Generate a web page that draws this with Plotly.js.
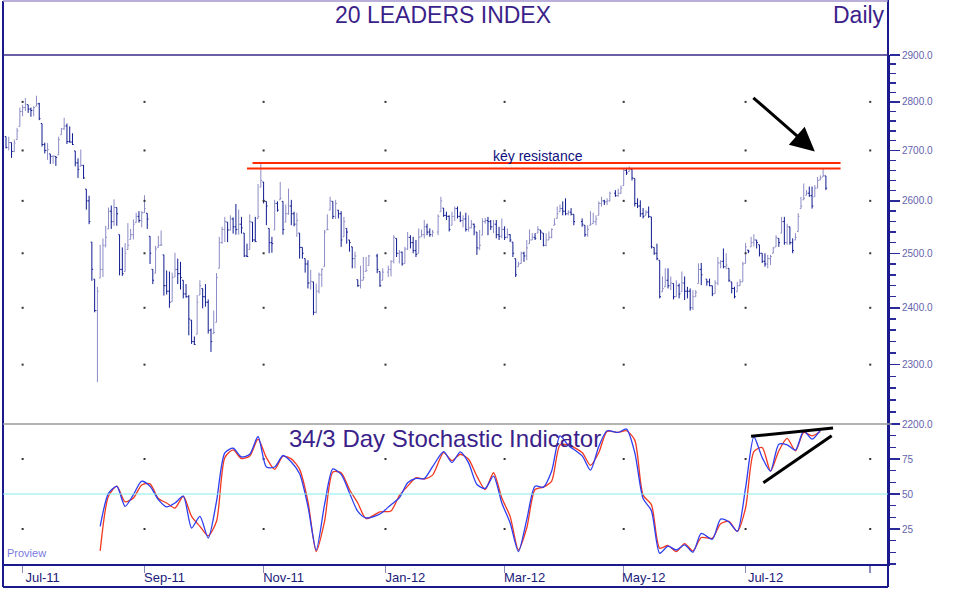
<!DOCTYPE html>
<html><head><meta charset="utf-8">
<script src="https://cdn.plot.ly/plotly-3.0.1.min.js"></script>
<style>html,body{margin:0;padding:0;background:#fff;}#chart{width:956px;height:591px;}</style>
</head><body><div id="chart"></div>
<script>
// ---- data ----
const startDate = '2011-06-23';
const holidays = ['2011-12-26','2011-12-27','2012-01-02','2012-01-26','2012-04-06','2012-04-09','2012-04-25','2012-06-11'];
const firstOpen = 2728;
const highs = [
2728,2728,2716,2722,2746,2788,2794,2808,2794,2788,
2791,2813,2798,2755,2716,2715,2693,2690,2688,2728,
2746,2767,2755,2749,2735,2699,2684,2702,2671,2623,
2610,2521,2452,2438,2516,2528,2552,2587,2591,2603,
2587,2535,2511,2519,2557,2546,2564,2577,2580,2580,
2611,2576,2532,2470,2514,2533,2543,2497,2468,2466,
2464,2501,2490,2484,2450,2443,2423,2378,2349,2423,
2450,2435,2443,2415,2363,2395,2463,2531,2550,2569,
2559,2572,2568,2594,2583,2569,2538,2518,2574,2559,
2569,2633,2677,2637,2599,2547,2531,2602,2599,
2637,2599,2593,2624,2602,2579,2577,2538,2511,2490,
2487,2469,2447,2444,2464,2472,2544,2574,2608,2599,
2602,2582,2580,2569,2547,2525,2512,2503,
2451,2477,2493,2493,2497,2499,2466,2472,2477,2487,2534,
2528,2506,2503,2512,2540,2534,2531,2525,2547,2545,
2563,2556,2547,2544,2574,2608,
2586,2579,2572,2579,2589,2589,2579,2572,2577,
2572,2563,2556,2540,2544,2566,2567,2569,2563,2563,2563,2550,2566,
2551,2547,2536,2521,2490,2484,2503,2503,2525,2545,
2538,
2538,2551,2544,2538,2538,2541,2547,2566,
2589,2593,2599,2605,2582,2586,2574,2566,2553,2553,
2580,2577,2572,2599,2608,2602,
2605,2618,2621,2624,2630,2665,2665,2668,2665,2644,2605,2601,2586,
2582,2589,2569,2511,2518,2487,2457,2472,2472,2457,2444,2450,2444,2466,2457,
2438,2435,2432,2432,2481,2482,2452,2453,
2440,2450,2493,2487,2509,2500,2472,2447,2438,
2447,2452,2484,2519,2506,2531,2536,
2525,2516,2500,2500,2497,2497,2512,2534,2528,2569,2569,2556,2550,2528,2538,
2576,2608,2634,2621,2628,
2628,2631,2647,2650,2664,2649];
const lows = [
2704,2700,2685,2697,2722,2749,2770,2781,2777,2769,
2770,2791,2762,2708,2694,2681,2673,2673,2669,2691,
2732,2742,2713,2716,2711,2668,2645,2668,2643,2583,
2555,2449,2392,2270,2454,2456,2511,2546,2546,2552,
2552,2459,2458,2466,2507,2526,2526,2558,2558,2549,
2577,2546,2480,2443,2463,2511,2514,2422,2424,2400,
2411,2456,2443,2433,2417,2418,2351,2336,2334,2353,
2423,2399,2402,2354,2322,2354,2374,2472,2518,2521,
2521,2543,2537,2535,2535,2537,2493,2493,2507,2521,
2521,2566,2627,2595,2553,2500,2501,2544,2579,
2602,2535,2559,2573,2553,2551,2531,2490,2490,2464,
2435,2433,2387,2390,2426,2438,2475,2544,2582,2565,
2565,2566,2512,2531,2518,2503,2472,2472,
2438,2435,2450,2466,2477,2463,2438,2450,2456,2457,2481,
2493,2481,2477,2481,2506,2509,2500,2493,2500,2531,
2528,2534,2531,2531,2534,2579,
2569,2563,2541,2553,2561,2566,2559,2549,2541,
2541,2547,2534,2497,2506,2534,2556,2534,2544,2538,2528,2525,2528,
2525,2528,2521,2493,2456,2475,2481,2484,2487,2518,
2525,
2525,2538,2525,2513,2513,2525,2528,2553,
2566,2579,2572,2572,2572,2572,2553,2550,2531,2531,
2553,2556,2553,2572,2589,2592,
2592,2599,2608,2608,2614,2630,2651,2658,2640,2589,2586,2569,2566,
2572,2567,2509,2497,2487,2417,2429,2438,2435,2432,2415,2420,2417,2429,2414,
2417,2395,2396,2420,2444,2441,2440,2439,
2421,2426,2441,2472,2472,2470,2447,2426,2417,
2429,2440,2447,2481,2500,2512,2513,
2509,2494,2482,2475,2472,2478,2500,2512,2512,2538,2516,2516,2516,2500,2525,
2541,2585,2602,2611,2608,
2585,2608,2625,2641,2647,2621];
const closes = [
2706,2716,2698,2715,2740,2780,2788,2795,2785,2782,
2788,2796,2765,2712,2700,2702,2688,2689,2686,2722,
2744,2750,2718,2717,2712,2675,2662,2670,2645,2600,
2560,2470,2395,2430,2470,2515,2530,2580,2560,2587,
2575,2470,2462,2500,2515,2535,2555,2570,2562,2577,
2585,2565,2500,2450,2508,2515,2516,2440,2430,2410,
2455,2470,2462,2455,2425,2420,2380,2340,2335,2410,
2440,2420,2410,2360,2340,2356,2455,2520,2545,2560,
2544,2565,2550,2545,2555,2548,2495,2494,2560,2525,
2522,2570,2640,2600,2590,2520,2518,2595,2582,
2605,2545,2575,2590,2575,2555,2562,2511,2500,2480,
2445,2448,2392,2430,2460,2470,2540,2545,2600,2570,
2595,2575,2525,2560,2540,2520,2490,2495,
2440,2450,2455,2468,2495,2470,2440,2465,2470,2485,2530,
2500,2502,2480,2508,2530,2520,2505,2498,2530,2535,
2550,2540,2535,2540,2570,2600,
2572,2570,2545,2570,2585,2570,2562,2565,2545,
2548,2555,2550,2510,2515,2560,2562,2560,2550,2555,2535,2532,2545,
2530,2535,2525,2500,2460,2480,2500,2495,2510,2525,
2530,
2528,2545,2540,2515,2525,2530,2545,2555,
2575,2585,2580,2575,2578,2574,2560,2555,2535,2545,
2555,2560,2565,2595,2600,2598,
2600,2615,2610,2615,2625,2660,2655,2662,2645,2595,2590,2575,2570,
2578,2570,2512,2500,2490,2420,2435,2450,2440,2445,2420,2440,2425,2445,2430,
2430,2400,2420,2428,2470,2460,2447,2440,
2425,2445,2482,2485,2475,2478,2450,2435,2420,
2440,2447,2480,2512,2504,2520,2525,
2520,2500,2485,2480,2490,2494,2510,2530,2520,2560,2520,2550,2520,2505,2530,
2570,2590,2605,2615,2610,
2590,2625,2640,2645,2650,2625];

// 34/3 day stochastic, read every 3rd trading day starting at bar index 34
const stochStart = 34;
const stochStep = 3;
const stochK = [26.9,50.4,55.4,41.2,49.6,59.2,55.6,46.0,40.8,43.6,
48.4,25.7,34.0,18.5,44.8,79.4,82.7,76.5,78.4,91.1,
69.3,69.3,77.5,72.9,64.5,41.2,10.0,42.4,67.9,64.0,
50.8,37.6,32.9,35.7,42.4,47.2,58.0,61.2,61.0,69.5,
80.3,72.4,80.1,72.2,56.8,54.0,62.8,43.6,29.3,8.9,
31.7,55.6,54.9,66.4,91.6,84.9,77.2,67.1,83.9,95.2,
94.0,96.4,79.6,46.8,38.1,7.7,12.7,10.0,13.7,8.4,
21.8,17.7,32.1,30.0,23.3,54.4,90.9,76.0,66.4,85.6,
85.1,81.3,95.2,89.2,95.7];
const stochD = [9.4,48.4,55.6,44.4,47.2,56.4,57.3,46.8,43.6,40.0,
48.4,34.0,26.9,20.1,30.5,76.0,81.5,75.3,77.2,89.2,
76.0,67.6,77.0,75.1,67.6,44.8,8.9,30.5,65.7,65.2,
53.2,43.6,32.4,37.2,37.9,48.9,55.6,61.6,60.7,63.5,
79.6,73.9,78.4,74.8,62.8,53.2,65.2,47.2,34.0,10.0,
25.7,53.2,54.9,59.2,85.1,85.1,79.6,70.5,79.6,94.7,
94.0,95.2,88.5,49.2,42.4,11.3,13.2,8.9,14.6,9.4,
18.9,18.5,28.8,30.5,23.3,40.0,80.3,83.2,66.4,80.8,
89.7,80.8,94.0,91.6,94.7];

// axes / ticks
const monthTicks = ['2011-07-01','2011-09-01','2011-11-01','2012-01-02','2012-03-01','2012-05-01','2012-07-02','2012-09-03'];
const monthLabels = ['Jul-11','Sep-11','Nov-11','Jan-12','Mar-12','May-12','Jul-12',''];
const priceTicks = [2200,2300,2400,2500,2600,2700,2800,2900];
const priceInnerTicks = [2300,2400,2500,2600,2700,2800];
const stochTicks = [25,50,75];
const stochInnerTicks = [25,75];

// annotations
const resistanceUpper = {level:2675, from:'2011-10-26', to:'2012-08-17 07:00'};
const resistanceLower = {level:2664, from:'2011-10-24', to:'2012-08-17 07:00'};
const arrowTip = {date:'2012-08-06', price:2698};
const wedgeTop = {x0:'2012-07-04', y0:91.2, x1:'2012-08-14 14:00', y1:97.1};
const wedgeBottom = {x0:'2012-07-10 10:00', y0:58.1, x1:'2012-08-14 02:00', y1:91.6};

// ---- build ----
function tradingDays(start, n, skip) {
  const out = [];
  const d = new Date(start + 'T00:00:00Z');
  while (out.length < n) {
    const dow = d.getUTCDay();
    const s = d.toISOString().slice(0, 10);
    if (dow !== 0 && dow !== 6 && skip.indexOf(s) < 0) out.push(s);
    d.setUTCDate(d.getUTCDate() + 1);
  }
  return out;
}
const dates = tradingDays(startDate, closes.length, holidays);
const opens = closes.map((c, i) => {
  const prev = i === 0 ? firstOpen : closes[i - 1];
  return Math.min(Math.max(prev, lows[i]), highs[i]);
});
const stochDates = stochK.map((v, k) => dates[stochStart + stochStep * k]);

const priceMinor = [];
for (let v = 2200; v <= 2900; v += 20) priceMinor.push(v);
const stochMinor = [];
for (let k = 0; k <= 12; k++) stochMinor.push(k * 25 / 3);

const dotX = [], dotY = [], dotX2 = [], dotY2 = [];
monthTicks.forEach(t => {
  priceInnerTicks.forEach(p => { dotX.push(t); dotY.push(p); });
  stochInnerTicks.forEach(p => { dotX2.push(t); dotY2.push(p); });
});

const FONT = 'Liberation Sans, Arial, sans-serif';
const NAVY = '#1a1a8c';

const traces = [
  {type:'ohlc', x:dates, open:opens, high:highs, low:lows, close:closes,
   xaxis:'x', yaxis:'y', tickwidth:0.45, hoverinfo:'skip',
   increasing:{line:{color:'#8c8cc6', width:1}},
   decreasing:{line:{color:'#0e1a8e', width:1}}},
  {type:'scatter', mode:'markers', x:dotX, y:dotY, xaxis:'x', yaxis:'y',
   marker:{size:2, symbol:'square', color:'#333'}, hoverinfo:'skip'},
  {type:'scatter', mode:'markers', x:dotX2, y:dotY2, xaxis:'x', yaxis:'y2',
   marker:{size:2, symbol:'square', color:'#333'}, hoverinfo:'skip'},
  {type:'scatter', mode:'lines', x:stochDates, y:stochD, xaxis:'x', yaxis:'y2',
   line:{color:'#f2381e', width:1.3, shape:'spline', smoothing:0.7}, hoverinfo:'skip'},
  {type:'scatter', mode:'lines', x:stochDates, y:stochK, xaxis:'x', yaxis:'y2',
   line:{color:'#2c3ef0', width:1.3, shape:'spline', smoothing:0.7}, hoverinfo:'skip'}
];

const pTop = 1.1061, pBot = -0.0452;
const shapes = [
  // frame
  {type:'line', xref:'paper', yref:'paper', x0:0, x1:0, y0:pBot, y1:pTop, line:{color:NAVY, width:2}},
  {type:'line', xref:'paper', yref:'paper', x0:1, x1:1, y0:pBot, y1:pTop+0.002, line:{color:NAVY, width:2}},
  {type:'line', xref:'paper', yref:'paper', x0:0, x1:1, y0:pTop, y1:pTop, line:{color:'#a294cc', width:1.5}},
  {type:'line', xref:'paper', yref:'paper', x0:0, x1:1, y0:pBot, y1:pBot, line:{color:NAVY, width:2}},
  {type:'line', xref:'paper', yref:'paper', x0:0, x1:1, y0:1, y1:1, line:{color:'#3a2a8a', width:1.5}},
  {type:'line', xref:'paper', yref:'paper', x0:0, x1:1.004, y0:0.275, y1:0.275, line:{color:'#9a9a9a', width:1.5}},
  // 50 line
  {type:'line', xref:'paper', yref:'y2', x0:0, x1:1, y0:50, y1:50, line:{color:'#86eeee', width:1.2}},
  // key resistance
  {type:'line', xref:'x', yref:'y', x0:resistanceUpper.from, x1:resistanceUpper.to,
   y0:resistanceUpper.level, y1:resistanceUpper.level, line:{color:'#ff2a00', width:2}},
  {type:'line', xref:'x', yref:'y', x0:resistanceLower.from, x1:resistanceLower.to,
   y0:resistanceLower.level, y1:resistanceLower.level, line:{color:'#ff2a00', width:2}},
  // wedge
  {type:'line', xref:'x', yref:'y2', x0:wedgeTop.x0, y0:wedgeTop.y0, x1:wedgeTop.x1, y1:wedgeTop.y1, line:{color:'#000', width:3}},
  {type:'line', xref:'x', yref:'y2', x0:wedgeBottom.x0, y0:wedgeBottom.y0, x1:wedgeBottom.x1, y1:wedgeBottom.y1, line:{color:'#000', width:3}}
];

const annotations = [
  {text:'20 LEADERS INDEX', xref:'paper', yref:'paper', x:0.4972, y:1.0786, xanchor:'center', yanchor:'middle',
   showarrow:false, font:{family:FONT, size:23, color:'#3b1f8a'}},
  {text:'Daily', xref:'paper', yref:'paper', x:0.999, y:1.0786, xanchor:'right', yanchor:'middle',
   showarrow:false, font:{family:FONT, size:23, color:'#3b1f8a'}},
  {text:'34/3 Day Stochastic Indicator', xref:'paper', yref:'paper', x:0.4994, y:0.2456, xanchor:'center', yanchor:'middle',
   showarrow:false, font:{family:FONT, size:24, color:'#3b1f8a'}},
  {text:'key resistance', xref:'paper', yref:'paper', x:0.604, y:0.8016, xanchor:'center', yanchor:'middle',
   showarrow:false, font:{family:FONT, size:14, color:'#10107e'}},
  {text:'Proview', xref:'paper', yref:'paper', x:0.0023, y:0.0216, xanchor:'left', yanchor:'middle',
   showarrow:false, font:{family:FONT, size:11, color:'#7a7ae0'}},
  {text:'', xref:'x', yref:'y', x:arrowTip.date, y:Math.log10(arrowTip.price), showarrow:true,
   arrowhead:2, arrowsize:1.6, arrowwidth:3, arrowcolor:'#000', ax:-63, ay:-55, standoff:0}
];

const layout = {
  width:956, height:591,
  margin:{l:3, r:68, t:55, b:27, pad:0},
  paper_bgcolor:'#ffffff', plot_bgcolor:'#ffffff',
  showlegend:false, hovermode:false,
  xaxis:{type:'date', anchor:'y2', domain:[0,1],
    range:['2011-06-21 22:00','2012-09-11 10:00'],
    rangebreaks:[{bounds:['sat','mon']}],
    rangeslider:{visible:false},
    tickmode:'array', tickvals:monthTicks, ticktext:monthLabels,
    ticks:'outside', ticklen:7, tickwidth:1.5, tickcolor:'#8a8ab8',
    ticklabelshift:20, ticklabelstandoff:-7,
    tickfont:{family:FONT, size:13, color:'#1a1a7a'},
    showline:true, linecolor:NAVY, linewidth:2, showgrid:false, zeroline:false},
  yaxis:{domain:[0.275,1], anchor:'x', type:'log', side:'right',
    range:[Math.log10(2200), Math.log10(2900)],
    tickmode:'array', tickvals:priceTicks, tickformat:'.1f',
    ticks:'outside', ticklen:10, tickwidth:1.5, tickcolor:'#2a2a9a',
    tickfont:{family:FONT, size:10, color:'#6464aa'},
    minor:{tickmode:'array', tickvals:priceMinor, ticks:'outside', ticklen:6, tickwidth:1.5, tickcolor:'#2a2a9a', showgrid:false},
    showline:true, linecolor:NAVY, linewidth:2, showgrid:false, zeroline:false},
  yaxis2:{domain:[0,0.275], anchor:'x', side:'right', range:[0,100],
    tickmode:'array', tickvals:stochTicks,
    ticks:'outside', ticklen:10, tickwidth:1.5, tickcolor:'#2a2a9a',
    tickfont:{family:FONT, size:10, color:'#6464aa'},
    minor:{tickmode:'array', tickvals:stochMinor, ticks:'outside', ticklen:6, tickwidth:1.5, tickcolor:'#2a2a9a', showgrid:false},
    showline:true, linecolor:NAVY, linewidth:2, showgrid:false, zeroline:false},
  yaxis3:{overlaying:'y', side:'left', anchor:'x', type:'log',
    range:[Math.log10(2200), Math.log10(2900)],
    tickmode:'array', tickvals:priceInnerTicks, ticks:'inside', ticklen:9, tickwidth:1.5, tickcolor:NAVY,
    showticklabels:false, showline:true, linecolor:NAVY, linewidth:2, showgrid:false, zeroline:false},
  yaxis4:{overlaying:'y2', side:'left', anchor:'x', range:[0,100],
    tickmode:'array', tickvals:stochInnerTicks, ticks:'inside', ticklen:9, tickwidth:1.5, tickcolor:NAVY,
    showticklabels:false, showline:true, linecolor:NAVY, linewidth:2, showgrid:false, zeroline:false},
  shapes:shapes,
  annotations:annotations
};

Plotly.newPlot('chart', traces, layout, {staticPlot:true, displayModeBar:false});
</script>
</body></html>
